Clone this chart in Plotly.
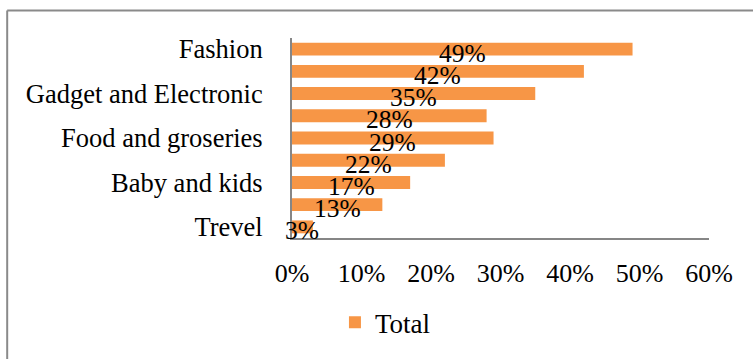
import plotly.graph_objects as go

categories = ["Fashion", "", "Gadget and Electronic", "", "Food and groseries",
              "", "Baby and kids", "", "Trevel"]
values = [0.49, 0.42, 0.35, 0.28, 0.29, 0.22, 0.17, 0.13, 0.03]
value_labels = ["49%", "42%", "35%", "28%", "29%", "22%", "17%", "13%", "3%"]
x_ticks = [0, 0.1, 0.2, 0.3, 0.4, 0.5, 0.6]
x_tick_labels = ["0%", "10%", "20%", "30%", "40%", "50%", "60%"]
series_name = "Total"

FONT = "Liberation Serif, Times New Roman, serif"
ORANGE = "#F79646"
GREY = "#868686"

idx = list(range(len(categories)))
tickvals = [i for i, c in enumerate(categories) if c]
ticktext = [c for c in categories if c]

fig = go.Figure()
fig.add_trace(go.Bar(
    x=values, y=idx, orientation="h", name=series_name,
    marker=dict(color=ORANGE, line=dict(width=0)), width=0.58,
    hoverinfo="skip",
))

for i, (v, t) in enumerate(zip(values, value_labels)):
    fig.add_annotation(x=v / 2, y=i, text=t, showarrow=False,
                       xref="x", yref="y", yshift=-4,
                       font=dict(family=FONT, size=25.5, color="black"))

# outer frame (chart border)
frame = dict(type="line", xref="paper", yref="paper",
             line=dict(color="#8a8a8a", width=2))
fig.add_shape(**frame, x0=-0.683, x1=-0.683, y0=1.138, y1=-1.2)
fig.add_shape(**frame, x0=-0.683, x1=1.2, y0=1.138, y1=1.138)

fig.update_layout(
    width=753, height=359,
    margin=dict(l=292, r=44, t=38, b=118),
    paper_bgcolor="white", plot_bgcolor="white",
    font=dict(family=FONT, size=26, color="black"),
    showlegend=True,
    legend=dict(x=0.103, y=-0.424, xanchor="left", yanchor="middle",
                orientation="h", font=dict(family=FONT, size=27),
                bgcolor="rgba(0,0,0,0)"),
    xaxis=dict(range=[0, 0.6], tickvals=x_ticks, ticktext=x_tick_labels,
               showgrid=False, zeroline=False, showline=True,
               linecolor=GREY, linewidth=2, ticks="", ticklabelstandoff=11,
               tickfont=dict(family=FONT, size=26)),
    yaxis=dict(range=[8.5, -0.5], tickvals=tickvals, ticktext=ticktext,
               showgrid=False, zeroline=False, showline=True,
               linecolor=GREY, linewidth=2, ticks="", ticklabelstandoff=22,
               tickfont=dict(family=FONT, size=26.5)),
)

fig.write_html("out.html")
